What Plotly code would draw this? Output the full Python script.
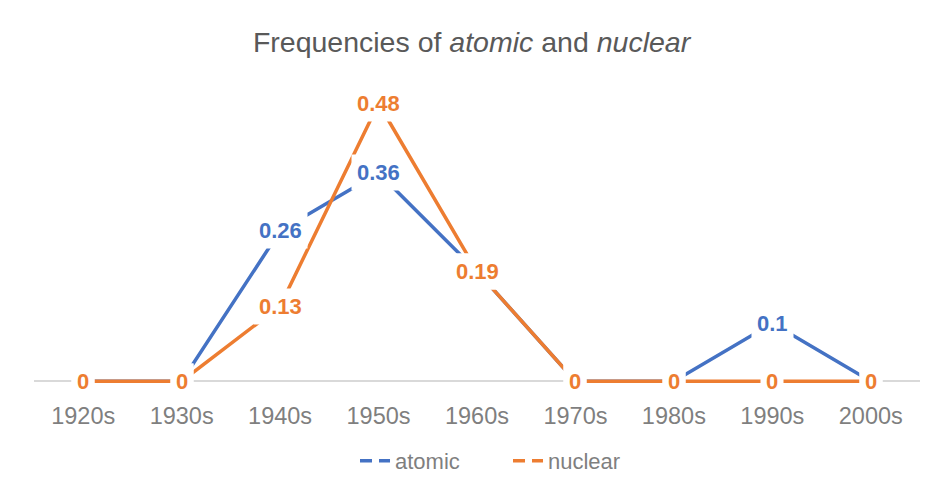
import plotly.graph_objects as go

decades = ["1920s", "1930s", "1940s", "1950s", "1960s", "1970s", "1980s", "1990s", "2000s"]
atomic = [0, 0, 0.26, 0.36, 0.19, 0, 0, 0.1, 0]
nuclear = [0, 0, 0.13, 0.48, 0.19, 0, 0, 0, 0]

BLUE = "#4472C4"
ORANGE = "#ED7D31"
GRAY = "#7F7F7F"
FONT = "Liberation Sans"

fig = go.Figure()

series = [("atomic", atomic, BLUE), ("nuclear", nuclear, ORANGE)]
for name, vals, col in series:
    fig.add_trace(go.Scatter(x=decades, y=vals, mode="lines", name=name,
                             line=dict(color=col, width=3.5), showlegend=False,
                             cliponaxis=False))
    # legend entry drawn like excel's (line broken by label)
    fig.add_trace(go.Scatter(x=[None], y=[None], mode="lines", name=name,
                             line=dict(color=col, width=3.5, dash="12px,7px")))

# centred data labels with white box, later series on top
for name, vals, col in series:
    for d, v in zip(decades, vals):
        fig.add_annotation(x=d, y=v, text="<b>%g</b>" % v, showarrow=False,
                           font=dict(family=FONT, size=22, color=col),
                           bgcolor="white", borderpad=5)

# page has an 8px body margin, so the figure is nudged up/left by that much
fig.update_layout(
    width=946, height=482,
    margin=dict(l=26, r=34, t=55, b=103, autoexpand=False),
    paper_bgcolor="white", plot_bgcolor="white",
    title=dict(text="Frequencies of <i>atomic</i> and <i>nuclear</i>",
               x=0.49, xanchor="center", y=1 - 34 / 482, yanchor="middle",
               font=dict(family=FONT, size=28.5, color="#595959")),
    legend=dict(orientation="h", x=0.535, xanchor="center",
                yref="container", y=(482 - 453) / 482, yanchor="middle",
                entrywidth=108,
                font=dict(family=FONT, size=22, color=GRAY)),
    showlegend=True,
)
fig.update_xaxes(type="category", range=[-0.5, 8.5], showgrid=False, showline=False,
                 ticks="", ticklabelstandoff=12, automargin=False,
                 tickfont=dict(family=FONT, size=23.5, color=GRAY))
fig.update_yaxes(range=[-0.01, 0.55], showgrid=False, showticklabels=False,
                 zeroline=True, zerolinecolor="#D9D9D9", zerolinewidth=1.5)

fig.write_html("out.html")
